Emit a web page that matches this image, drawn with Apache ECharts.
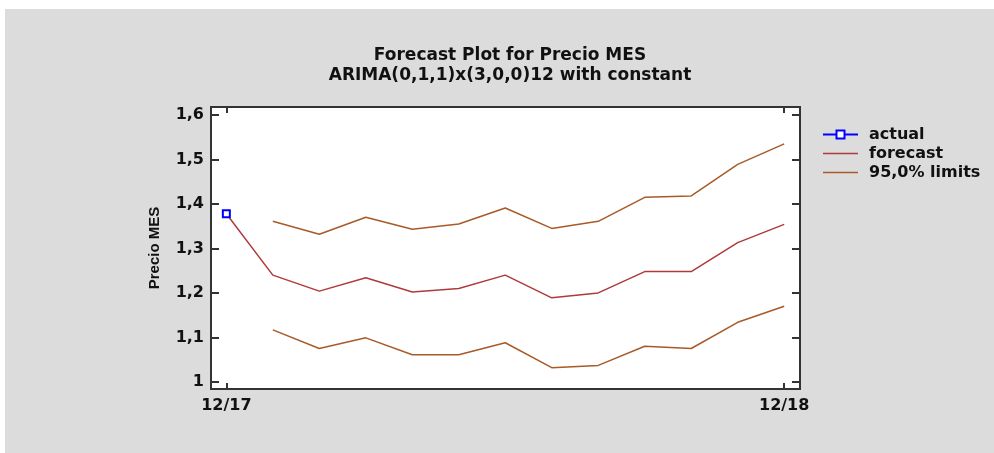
<!DOCTYPE html>
<html>
<head>
<meta charset="utf-8">
<script src="https://cdn.jsdelivr.net/npm/echarts@6/dist/echarts.min.js"></script>
<style>
  html, body { margin: 0; padding: 0; background: #fff; }
  #chart { width: 994px; height: 453px; }
</style>
</head>
<body>
<div id="chart"></div>
<script>
// months, 0 = 12/17 ... 12 = 12/18
var months = ['12/17','1/18','2/18','3/18','4/18','5/18','6/18','7/18','8/18','9/18','10/18','11/18','12/18'];
var xTickIdx = [0, 12];
var yTicks = [1, 1.1, 1.2, 1.3, 1.4, 1.5, 1.6];

var actual = [1.378];
var forecast = [1.378, 1.240, 1.204, 1.234, 1.202, 1.210, 1.240, 1.189, 1.200, 1.248, 1.248, 1.313, 1.354];
var upper = [null, 1.361, 1.332, 1.370, 1.343, 1.355, 1.391, 1.345, 1.361, 1.415, 1.418, 1.489, 1.535];
var lower = [null, 1.117, 1.075, 1.099, 1.061, 1.061, 1.088, 1.032, 1.037, 1.080, 1.075, 1.134, 1.170];

var FONT = '"DejaVu Sans", sans-serif';
var FONT2 = '"Liberation Sans", Arial, sans-serif';
var limitColor = '#a85a28';
var fcColor = '#b03a3a';
var lineIcon = 'path://M0,0H35V1.6H0Z';

function pairs(arr) {
    var out = [];
    arr.forEach(function (v, i) { if (v != null) out.push([i, v]); });
    return out;
}
function commaFmt(v) { return String(Math.round(v * 10) / 10).replace('.', ','); }

var tickStyle = { color: '#333', width: 2 };

var chart = echarts.init(document.getElementById('chart'));
chart.setOption({
    animation: false,
    backgroundColor: '#fff',
    graphic: [{
        type: 'rect', z: -10, silent: true,
        shape: { x: 5, y: 9, width: 989, height: 444 },
        style: { fill: '#dcdcdc' }
    }],
    title: {
        text: 'Forecast Plot for Precio MES\nARIMA(0,1,1)x(3,0,0)12 with constant',
        left: 505, top: 41, textAlign: 'center',
        textStyle: { fontFamily: FONT, fontSize: 17, fontWeight: 'bold', color: '#111', lineHeight: 20 }
    },
    legend: {
        orient: 'vertical',
        left: 822, top: 125, padding: 0,
        itemWidth: 35, itemHeight: 10, itemGap: 0,
        symbolKeepAspect: true,
        data: [
            { name: 'actual' },
            { name: 'forecast', icon: lineIcon },
            { name: '95,0% limits', icon: lineIcon }
        ],
        textStyle: { fontFamily: FONT, fontSize: 16, fontWeight: 'bold', color: '#111',
                     lineHeight: 19, padding: [0, 0, 0, 6] }
    },
    grid: {
        left: 211, top: 107, width: 589, height: 282,
        show: true, backgroundColor: '#fff', borderColor: '#333', borderWidth: 2
    },
    xAxis: [{
        type: 'value', min: -0.33, max: 12.34,
        axisLine: { show: false, onZero: false },
        axisTick: { show: true, inside: true, length: 6, customValues: xTickIdx, lineStyle: tickStyle },
        axisLabel: { customValues: xTickIdx, formatter: function (v) { return months[Math.round(v)]; },
                     fontFamily: FONT, fontSize: 16, fontWeight: 'bold', color: '#111', margin: 9 },
        splitLine: { show: false }
    }, {
        type: 'value', min: -0.33, max: 12.34, position: 'top',
        axisLine: { show: false, onZero: false },
        axisTick: { show: true, inside: true, length: 6, customValues: xTickIdx, lineStyle: tickStyle },
        axisLabel: { show: false },
        splitLine: { show: false }
    }],
    yAxis: [{
        type: 'value', min: 0.984, max: 1.618,
        name: 'Precio MES', nameLocation: 'middle', nameRotate: 90, nameGap: 49,
        nameTextStyle: { fontFamily: FONT2, fontSize: 15, fontWeight: 'bold', color: '#111' },
        axisLine: { show: false, onZero: false },
        axisTick: { show: true, inside: true, length: 8, customValues: yTicks, lineStyle: tickStyle },
        axisLabel: { customValues: yTicks, formatter: commaFmt,
                     fontFamily: FONT, fontSize: 16, fontWeight: 'bold', color: '#111', margin: 7 },
        splitLine: { show: false }
    }, {
        type: 'value', min: 0.984, max: 1.618, position: 'right',
        axisLine: { show: false, onZero: false },
        axisTick: { show: true, inside: true, length: 8, customValues: yTicks, lineStyle: tickStyle },
        axisLabel: { show: false },
        splitLine: { show: false }
    }],
    series: [{
        name: 'forecast', type: 'line', symbol: 'none',
        lineStyle: { color: fcColor, width: 1.5 }, itemStyle: { color: fcColor },
        data: pairs(forecast)
    }, {
        name: '95,0% limits', type: 'line', symbol: 'none',
        lineStyle: { color: limitColor, width: 1.5 }, itemStyle: { color: limitColor },
        data: pairs(upper)
    }, {
        name: '95,0% limits', type: 'line', symbol: 'none',
        lineStyle: { color: limitColor, width: 1.5 }, itemStyle: { color: limitColor },
        data: pairs(lower)
    }, {
        name: 'actual', type: 'line', symbol: 'emptyRect', symbolSize: 7, z: 5,
        lineStyle: { color: '#0000ff', width: 1.5 },
        itemStyle: { color: '#0000ff', borderColor: '#0000ff', borderWidth: 1.5 },
        data: pairs(actual)
    }]
});
</script>
</body>
</html>
